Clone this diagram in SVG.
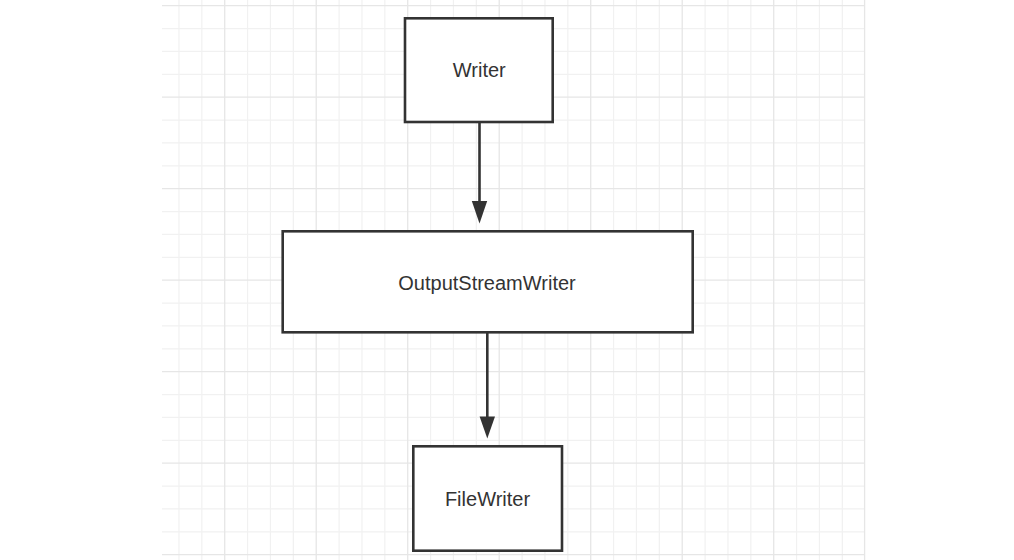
<svg xmlns="http://www.w3.org/2000/svg" width="1014" height="560" viewBox="0 0 1014 560">
<style>
.minor{stroke:#f1f1f1;stroke-width:1.2;fill:none}
.major{stroke:#e6e6e6;stroke-width:1.3;fill:none}
.box{fill:#ffffff;stroke:#333333;stroke-width:2.6}
.lbl{font-family:"Liberation Sans",Arial,sans-serif;font-size:20px;fill:#333333;text-anchor:middle}
.edge{stroke:#333333;stroke-width:2.6;fill:none}
</style>
<defs>
<marker id="arr" markerUnits="userSpaceOnUse" markerWidth="16" markerHeight="23" refX="15" refY="8" orient="auto" viewBox="0 0 23 16">
<path d="M0,0 L23,8 L0,16 Z" fill="#333333"/>
</marker>
</defs>
<rect x="0" y="0" width="1014" height="560" fill="#ffffff"/>
<g id="grid">
<path class="minor" d="M178.95,0V560M201.83,0V560M247.58,0V560M270.45,0V560M293.33,0V560M339.08,0V560M361.95,0V560M384.83,0V560M430.58,0V560M453.45,0V560M476.33,0V560M522.08,0V560M544.95,0V560M567.83,0V560M613.58,0V560M636.45,0V560M659.33,0V560M705.08,0V560M727.95,0V560M750.83,0V560M796.58,0V560M819.45,0V560M842.33,0V560"/>
<path class="minor" d="M162,28.58H865M162,51.45H865M162,74.33H865M162,120.08H865M162,142.95H865M162,165.83H865M162,211.58H865M162,234.45H865M162,257.33H865M162,303.08H865M162,325.95H865M162,348.83H865M162,394.58H865M162,417.45H865M162,440.33H865M162,486.08H865M162,508.95H865M162,531.83H865"/>
<path class="major" d="M224.7,0V560M316.2,0V560M407.7,0V560M499.2,0V560M590.7,0V560M682.2,0V560M773.7,0V560M864.6,0V560"/>
<path class="major" d="M162,5.7H865M162,97.2H865M162,188.7H865M162,280.2H865M162,371.7H865M162,463.2H865M162,554.7H865"/>
</g>
<g id="connectors">
<path class="edge" d="M479.5,122V206" />
<path d="M471.8,201 L479.5,223.5 L487.2,201 Z" fill="#333333"/>
<path class="edge" d="M487.3,332V421" />
<path d="M479.6,416.5 L487.3,438.5 L495,416.5 Z" fill="#333333"/>
</g>
<g id="node-writer">
<rect class="box" x="405" y="18.3" width="147.7" height="103.7"/>
<text class="lbl" x="479.3" y="77">Writer</text>
</g>
<g id="node-outputstreamwriter">
<rect class="box" x="282.7" y="231.3" width="410" height="101"/>
<text class="lbl" x="487" y="289.5">OutputStreamWriter</text>
</g>
<g id="node-filewriter">
<rect class="box" x="413.3" y="446.3" width="148.7" height="104.4"/>
<text class="lbl" x="487.5" y="505.5">FileWriter</text>
</g>
</svg>
